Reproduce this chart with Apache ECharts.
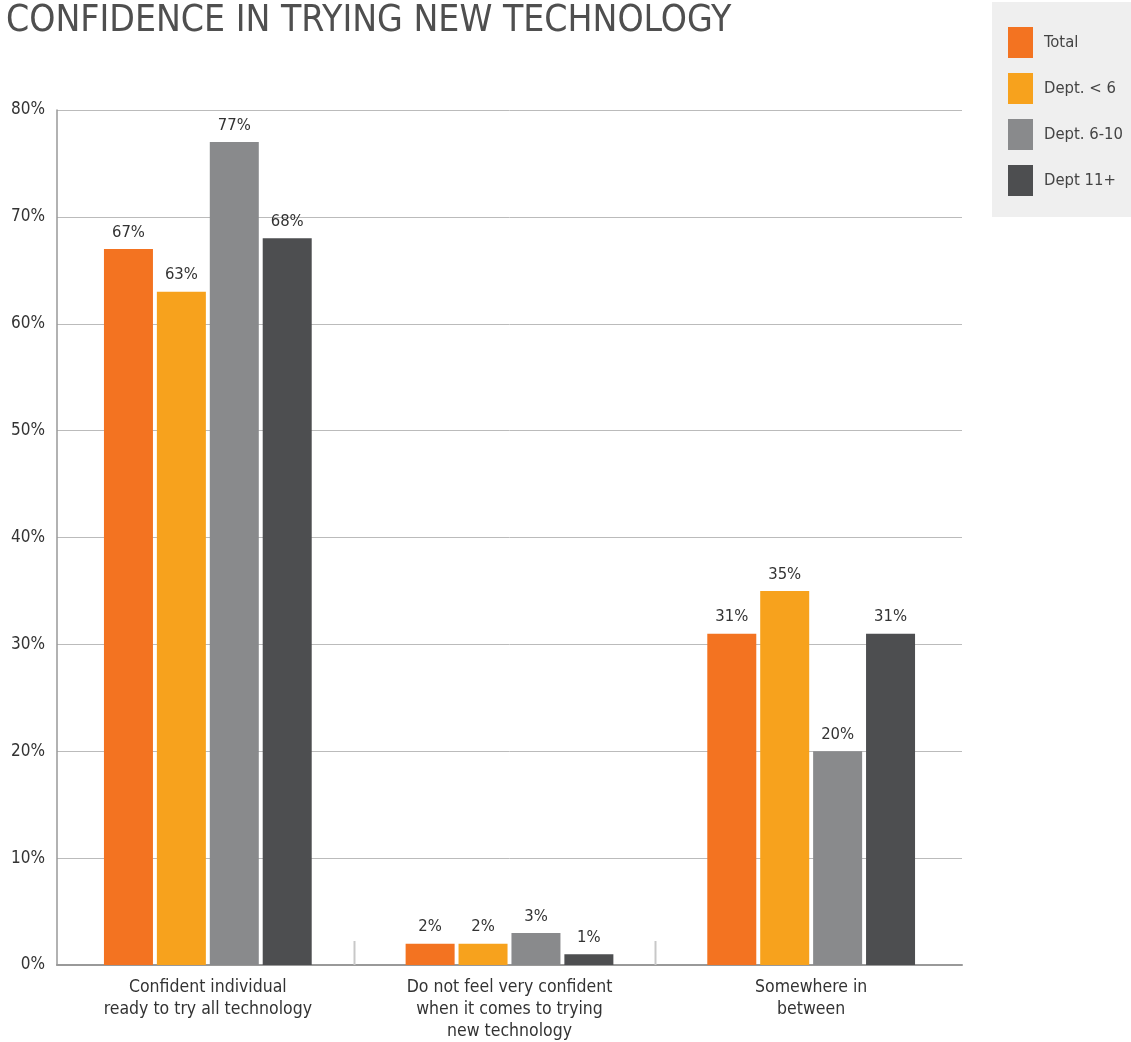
<!DOCTYPE html>
<html>
<head>
<meta charset="utf-8">
<title>Confidence in trying new technology</title>
<script src="https://cdn.jsdelivr.net/npm/echarts@6/dist/echarts.min.js"></script>
<style>
  html, body { margin: 0; padding: 0; background: #fff; }
  #chart { width: 1131px; height: 1042px; }
</style>
</head>
<body>
<div id="chart"></div>
<script>
// Survey answers (one category per answer)
const categories = [
  'Confident individual\nready to try all technology',
  'Do not feel very confident\nwhen it comes to trying\nnew technology',
  'Somewhere in\nbetween'
];

// Respondent groups and their shares (%)
const seriesNames = ['Total', 'Dept. < 6', 'Dept. 6-10', 'Dept 11+'];
const totalValues = [67, 2, 31];
const deptUnder6Values = [63, 2, 35];
const dept6to10Values = [77, 3, 20];
const dept11PlusValues = [68, 1, 31];

// Value axis ticks
const yMin = 0;
const yMax = 80;
const yStep = 10;

const colors = ['#F37321', '#F7A21D', '#898A8C', '#4D4E50'];
const seriesValues = [totalValues, deptUnder6Values, dept6to10Values, dept11PlusValues];
const FONT = '"DejaVu Sans Condensed", "DejaVu Sans", sans-serif';

const chart = echarts.init(document.getElementById('chart'), null, { renderer: 'canvas' });

const barSeries = seriesNames.map((name, i) => ({
  name: name,
  type: 'bar',
  data: seriesValues[i],
  barWidth: 49,
  barGap: '8%',
  itemStyle: { color: colors[i] },
  label: {
    show: true,
    position: 'top',
    distance: 8,
    formatter: '{c}%',
    color: '#333',
    fontSize: 16.5,
    fontFamily: FONT
  },
  emphasis: { disabled: true }
}));

// Short separator ticks between neighbouring categories
const separatorSeries = {
  type: 'custom',
  silent: true,
  z: 1,
  data: categories.slice(0, -1).map((c, i) => [i, 0]),
  renderItem: function (params, api) {
    const i = api.value(0);
    const a = api.coord([i, 0]);
    const b = api.coord([i + 1, 0]);
    const x = Math.round((a[0] + b[0]) / 2) - 4.5;
    return {
      type: 'line',
      shape: { x1: x, y1: a[1], x2: x, y2: a[1] - 24 },
      style: { stroke: '#c8c8c8', lineWidth: 2 }
    };
  }
};

chart.setOption({
  animation: false,
  backgroundColor: '#fff',
  title: {
    text: 'CONFIDENCE IN TRYING NEW TECHNOLOGY',
    left: 6,
    top: 3,
    padding: 0,
    textStyle: {
      fontFamily: FONT,
      fontSize: 37,
      fontWeight: 'normal',
      color: '#4f4f4f'
    }
  },
  legend: {
    data: seriesNames,
    orient: 'vertical',
    left: 992,
    top: 2,
    padding: [25, 14, 21, 16],
    backgroundColor: '#efefef',
    icon: 'rect',
    itemWidth: 25,
    itemHeight: 31,
    itemGap: 15,
    selectedMode: false,
    textStyle: {
      fontFamily: FONT,
      fontSize: 16.5,
      color: '#444',
      padding: [0, 0, 0, 6]
    }
  },
  grid: {
    left: 57,
    right: 169,
    top: 110,
    bottom: 77,
    containLabel: false
  },
  xAxis: {
    type: 'category',
    data: categories,
    axisLine: { lineStyle: { color: '#999', width: 2 } },
    axisTick: { show: false },
    axisLabel: {
      interval: 0,
      margin: 11,
      fontFamily: FONT,
      fontSize: 17.5,
      lineHeight: 22,
      color: '#333',
      align: 'center'
    }
  },
  yAxis: {
    type: 'value',
    min: yMin,
    max: yMax,
    interval: yStep,
    axisLine: { show: true, lineStyle: { color: '#999', width: 1.5 } },
    axisTick: { show: false },
    splitLine: { lineStyle: { color: '#bbb', width: 1 } },
    axisLabel: {
      formatter: '{value}%',
      margin: 12,
      fontFamily: FONT,
      fontSize: 17,
      color: '#333'
    }
  },
  series: barSeries.concat([separatorSeries])
});
</script>
</body>
</html>
